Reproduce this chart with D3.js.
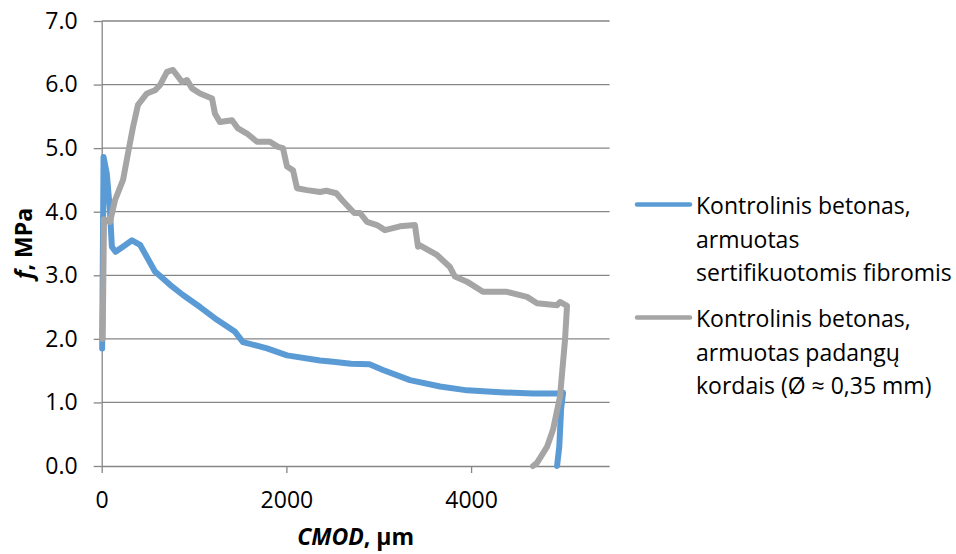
<!DOCTYPE html>
<html>
<head>
<meta charset="utf-8">
<script src="https://cdn.jsdelivr.net/npm/d3@7"></script>
<style>
  body { margin: 0; background: #fff; }
  text { font-family: "Open Sans", Lato, sans-serif; fill: #000; }
</style>
</head>
<body>
<div id="chart"></div>
<script>
// CMOD (µm) and stress f (MPa)
const blueX = [5, 20, 55, 90, 110, 150, 230, 328, 415, 577, 740, 880, 1065, 1249, 1444, 1530, 1790, 2007, 2364, 2505, 2700, 2900, 3046, 3338, 3665, 3957, 4313, 4670, 4963, 4996, 4975, 4955, 4931];
const blueY = [1.85, 4.86, 4.6, 4.0, 3.45, 3.37, 3.45, 3.55, 3.48, 3.06, 2.85, 2.69, 2.50, 2.30, 2.11, 1.95, 1.85, 1.74, 1.66, 1.64, 1.61, 1.60, 1.51, 1.35, 1.25, 1.19, 1.16, 1.14, 1.14, 1.15, 0.9, 0.3, 0.0];

const grayX = [10, 25, 90, 144, 231, 285, 339, 393, 490, 577, 631, 707, 772, 870, 924, 978, 1065, 1195, 1227, 1281, 1411, 1476, 1573, 1682, 1822, 1909, 1963, 2007, 2072, 2115, 2223, 2364, 2432, 2540, 2605, 2735, 2797, 2873, 2981, 3067, 3230, 3392, 3425, 3446, 3631, 3771, 3825, 3955, 4129, 4389, 4606, 4714, 4931, 4963, 5039, 5017, 4963, 4887, 4822, 4714, 4671];
const grayY = [2.0, 3.88, 3.84, 4.18, 4.5, 4.92, 5.33, 5.68, 5.86, 5.91, 5.99, 6.2, 6.23, 6.04, 6.07, 5.94, 5.86, 5.78, 5.54, 5.41, 5.44, 5.31, 5.23, 5.10, 5.10, 5.02, 5.0, 4.71, 4.65, 4.37, 4.34, 4.31, 4.33, 4.29, 4.18, 3.98, 3.98, 3.84, 3.79, 3.71, 3.77, 3.79, 3.45, 3.47, 3.32, 3.13, 2.98, 2.90, 2.74, 2.74, 2.66, 2.56, 2.53, 2.58, 2.52, 1.98, 1.09, 0.57, 0.30, 0.05, 0.0];

const seriesNames = [
  ["Kontrolinis betonas,", "armuotas", "sertifikuotomis fibromis"],
  ["Kontrolinis betonas,", "armuotas padangų", "kordais (Ø ≈ 0,35 mm)"]
];
const colors = ["#5B9BD5", "#A5A5A5"];
const xTicks = [0, 2000, 4000];
const yTicks = [0, 1, 2, 3, 4, 5, 6, 7];

const width = 956, height = 554;
const fontSize = "23px";
const svg = d3.select("#chart").append("svg")
  .attr("width", width).attr("height", height);

const x = d3.scaleLinear().domain([0, 5500]).range([101.7, 609.6]);
const y = d3.scaleLinear().domain([0, 7]).range([466, 21]);
const gridColor = "#868686";

// horizontal grid
svg.append("g").selectAll("line").data(yTicks.slice(1)).enter().append("line")
  .attr("x1", x(0)).attr("x2", x(5500))
  .attr("y1", d => y(d)).attr("y2", d => y(d))
  .attr("stroke", gridColor).attr("stroke-width", 1.3);

// axes
const yAxis = svg.append("g").attr("transform", `translate(${x(0)},0)`)
  .call(d3.axisLeft(y).tickValues(yTicks).tickFormat(d3.format(".1f")).tickSize(8).tickPadding(16));
const xAxis = svg.append("g").attr("transform", `translate(0,${y(0)})`)
  .call(d3.axisBottom(x).tickValues(xTicks).tickFormat(d3.format("d")).tickSize(7).tickPadding(19));
[xAxis, yAxis].forEach(g => {
  g.selectAll("path").attr("stroke", gridColor).attr("stroke-width", 1.3);
  g.selectAll("line").attr("stroke", gridColor).attr("stroke-width", 1.3);
  g.selectAll("text").style("font-size", fontSize).attr("fill", "#000");
});
xAxis.select(".domain").attr("d", `M${x(0)},0.5H${x(5500)}`);
yAxis.select(".domain").attr("d", `M0.5,${y(7)}V${y(0)}`);

// series, gray drawn last so it sits on top like in the reference
const line = d3.line().x(d => x(d[0])).y(d => y(d[1]));
const series = [d3.zip(blueX, blueY), d3.zip(grayX, grayY)];
svg.append("g").selectAll("path").data(series).enter().append("path")
  .attr("d", line)
  .attr("fill", "none")
  .attr("stroke", (d, i) => colors[i])
  .attr("stroke-width", 6)
  .attr("stroke-linejoin", "round")
  .attr("stroke-linecap", "round");

// axis titles
const yt = svg.append("text")
  .attr("transform", `translate(32,${(y(0) + y(7)) / 2}) rotate(-90)`)
  .attr("text-anchor", "middle")
  .style("font-size", fontSize).style("font-weight", "bold");
yt.append("tspan").style("font-style", "italic").text("f");
yt.append("tspan").text(", MPa");

const xt = svg.append("text")
  .attr("x", (x(0) + x(5500)) / 2).attr("y", 545)
  .attr("text-anchor", "middle")
  .style("font-size", fontSize).style("font-weight", "bold");
xt.append("tspan").style("font-style", "italic").text("CMOD");
xt.append("tspan").text(", µm");

// legend
const legend = svg.append("g").selectAll("g").data(seriesNames).enter().append("g")
  .attr("transform", (d, i) => `translate(637,${204.5 + i * 113})`);
legend.append("line")
  .attr("x1", 0).attr("x2", 53).attr("y1", 0).attr("y2", 0)
  .attr("stroke", (d, i) => colors[i]).attr("stroke-width", 4.5)
  .attr("stroke-linecap", "round");
legend.each(function(d) {
  d3.select(this).selectAll("text").data(d).enter().append("text")
    .attr("x", 59).attr("y", (t, j) => 9.5 + j * 33.5)
    .style("font-size", fontSize)
    .text(t => t);
});
</script>
</body>
</html>
